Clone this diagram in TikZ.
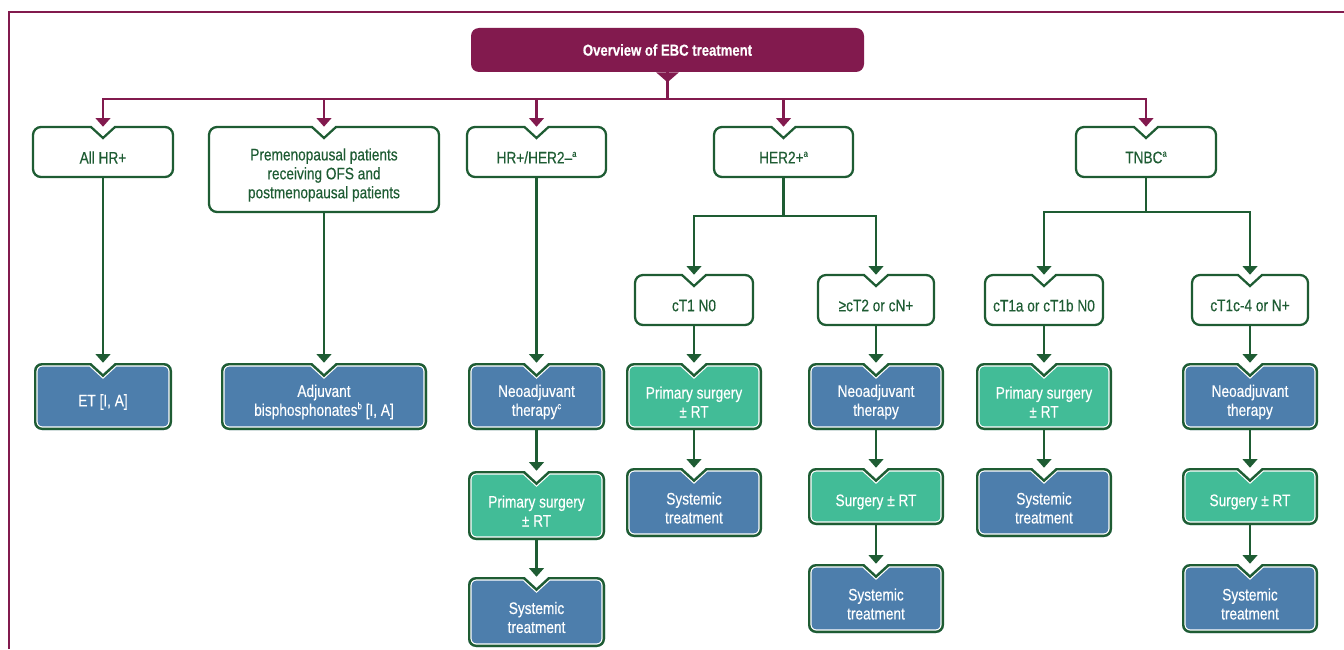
\documentclass[tikz,border=0pt]{standalone}
\usepackage{fontspec}
\setmainfont[FakeStretch=0.82, FakeBold=0.35]{Liberation Sans}
\usetikzlibrary{arrows.meta}
\definecolor{epurple}{HTML}{821A4E}
\definecolor{egreen}{HTML}{1E5C33}
\definecolor{eblue}{HTML}{4D7EAC}
\definecolor{eteal}{HTML}{42BC97}
\newcommand\bodyfont{\fontsize{12.5}{14.2}\selectfont}
\newcommand\supmark[1]{\raisebox{0.75ex}{\fontsize{7}{7}\selectfont #1}}
\newcommand\nbpath[4]{(#1,#2+8) arc[start angle=180,end angle=270,radius=8] -- ({(#1+#3)/2-12},#2) -- ({(#1+#3)/2},#2+11) -- ({(#1+#3)/2+12},#2) -- (#3-8,#2) arc[start angle=270,end angle=360,radius=8] -- (#3,#4-8) arc[start angle=0,end angle=90,radius=8] -- (#1+8,#4) arc[start angle=90,end angle=180,radius=8] -- cycle}
\tikzset{
  pline/.style={draw=epurple, line width=1.6pt},
  parrow/.style={pline, -{Triangle[width=11pt,length=6.5pt]}},
  gline/.style={draw=egreen, line width=1.6pt},
  garrow/.style={gline, -{Triangle[width=11pt,length=6.5pt]}},
  frame/.style={draw=none, inner sep=0pt, rectangle},
  oboxstyle/.style={draw=egreen, line width=1.7pt, fill=white},
  otext/.style={text=egreen, align=center, font=\bodyfont, inner sep=0pt},
  ftext/.style={text=white, align=center, font=\bodyfont, inner sep=0pt},
  hdrstyle/.style={fill=epurple, rounded corners=6pt, text=white, font=\fontsize{12}{14}\selectfont\bfseries, inner sep=0pt},
}
\newcommand\obox[6]{%
  \draw[oboxstyle] \nbpath{#2}{#3}{#4}{#5};
  \node[frame, minimum width={(#4-#2)*0.75pt}, minimum height={(#5-#3)*0.75pt}] (#1) at ({(#2+#4)/2},{(#3+#5)/2}) {};
  \node[otext] (#1-t) at ({(#2+#4)/2},{(#3+#5+11)/2}) {#6};}
\newcommand\filledbox[7]{%
  \begin{scope}
    \clip \nbpath{#2}{#3}{#4}{#5};
    \fill[#6] \nbpath{#2}{#3}{#4}{#5};
    \draw[white, line width=5.4pt] \nbpath{#2}{#3}{#4}{#5};
    \draw[egreen, line width=3.6pt] \nbpath{#2}{#3}{#4}{#5};
  \end{scope}
  \node[frame, minimum width={(#4-#2)*0.75pt}, minimum height={(#5-#3)*0.75pt}] (#1) at ({(#2+#4)/2},{(#3+#5)/2}) {};
  \node[ftext] (#1-t) at ({(#2+#4)/2},{(#3+#5+11)/2}) {#7};}
\begin{document}
\begin{tikzpicture}[x=0.75pt, y=-0.75pt]
\useasboundingbox (0,0) rectangle (1344,649);
% frame
\draw[epurple, line width=1.6pt] (9,649) -- (9,12) -- (1344,12);
% header
\node[hdrstyle, minimum width={393*0.75pt}, minimum height={44*0.75pt}] (hdr) at (667.5,50) {Overview of EBC treatment};
\fill[epurple] ([xshift=-8.6pt]hdr.south) -- ([yshift=-7.5pt]hdr.south) -- ([xshift=8.6pt]hdr.south) -- cycle;
\coordinate (hb) at (667.5,99);
% level 1
\obox{allhr}{33}{127}{173}{177}{All HR+}
\obox{preme}{209}{127}{439}{212}{Premenopausal patients\\receiving OFS and\\postmenopausal patients}
\obox{hrneg}{467}{127}{606}{177}{HR+/HER2–\supmark{a}}
\obox{her2}{714}{127}{853}{177}{HER2+\supmark{a}}
\obox{tnbc}{1076}{127}{1216}{177}{TNBC\supmark{a}}
% level 2
\obox{ct1}{635}{275}{753}{325}{cT1 N0}
\obox{ct2}{818}{275}{934}{325}{≥cT2 or cN+}
\obox{ct1a}{985}{275}{1103}{325}{cT1a or cT1b N0}
\obox{ct1c}{1192}{275}{1308}{325}{cT1c-4 or N+}
% filled boxes
\filledbox{et}{34}{363}{172}{430}{eblue}{ET [I, A]}
\filledbox{adj}{221}{363}{427}{430}{eblue}{Adjuvant\\bisphosphonates\supmark{b} [I, A]}
\filledbox{neo1}{468}{363}{605}{430}{eblue}{Neoadjuvant\\therapy\supmark{c}}
\filledbox{ps1}{468}{471}{605}{540}{eteal}{Primary surgery\\± RT}
\filledbox{st1}{468}{577}{605}{647}{eblue}{Systemic\\treatment}
\filledbox{ps2}{626}{363}{762}{430}{eteal}{Primary surgery\\± RT}
\filledbox{st2}{626}{468}{762}{537}{eblue}{Systemic\\treatment}
\filledbox{neo3}{808}{363}{944}{430}{eblue}{Neoadjuvant\\therapy}
\filledbox{sg3}{808}{468}{944}{525}{eteal}{Surgery ± RT}
\filledbox{st3}{808}{564}{944}{633}{eblue}{Systemic\\treatment}
\filledbox{ps4}{976}{363}{1112}{430}{eteal}{Primary surgery\\± RT}
\filledbox{st4}{976}{468}{1112}{537}{eblue}{Systemic\\treatment}
\filledbox{neo5}{1182}{363}{1318}{430}{eblue}{Neoadjuvant\\therapy}
\filledbox{sg5}{1182}{468}{1318}{525}{eteal}{Surgery ± RT}
\filledbox{st5}{1182}{564}{1318}{633}{eblue}{Systemic\\treatment}
% purple connectors
\draw[pline] (hdr.south) -- (hb);
\draw[parrow] (hb) -| (allhr.north);
\draw[parrow] (hb) -| (tnbc.north);
\foreach \n in {preme,hrneg,her2} \draw[parrow] (hb -| \n.north) -- (\n.north);
% green connectors
\draw[garrow] (allhr.south) -- (et.north);
\draw[garrow] (preme.south) -- (adj.north);
\draw[garrow] (hrneg.south) -- (neo1.north);
\draw[garrow] (neo1.south) -- (ps1.north);
\draw[garrow] (ps1.south) -- (st1.north);
\coordinate (hj) at (784,216);
\draw[gline] (her2.south) -- (her2.south |- hj);
\draw[garrow] (her2.south |- hj) -| (ct1.north);
\draw[garrow] (her2.south |- hj) -| (ct2.north);
\draw[garrow] (ct1.south) -- (ps2.north);
\draw[garrow] (ps2.south) -- (st2.north);
\draw[garrow] (ct2.south) -- (neo3.north);
\draw[garrow] (neo3.south) -- (sg3.north);
\draw[garrow] (sg3.south) -- (st3.north);
\coordinate (tj) at (1146,212);
\draw[gline] (tnbc.south) -- (tnbc.south |- tj);
\draw[garrow] (tnbc.south |- tj) -| (ct1a.north);
\draw[garrow] (tnbc.south |- tj) -| (ct1c.north);
\draw[garrow] (ct1a.south) -- (ps4.north);
\draw[garrow] (ps4.south) -- (st4.north);
\draw[garrow] (ct1c.south) -- (neo5.north);
\draw[garrow] (neo5.south) -- (sg5.north);
\draw[garrow] (sg5.south) -- (st5.north);
\end{tikzpicture}
\end{document}
